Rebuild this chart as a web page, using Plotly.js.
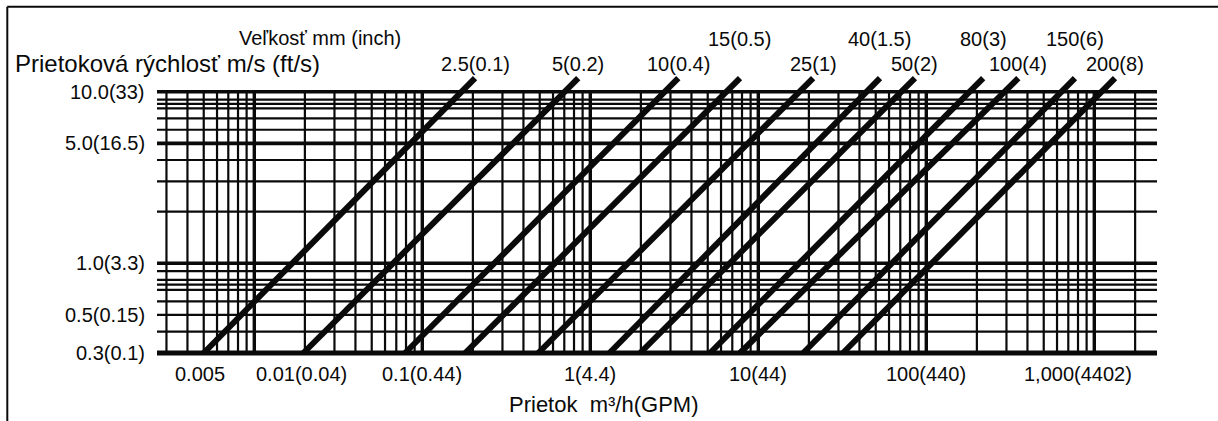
<!DOCTYPE html>
<html>
<head>
<meta charset="utf-8">
<script src="https://cdn.plot.ly/plotly-3.0.1.min.js"></script>
<style>
  html, body { margin: 0; padding: 0; background: #fff; }
  #chart { width: 1218px; height: 421px; }
</style>
</head>
<body>
<div id="chart"></div>
<script>
// ---------- data ----------
// pipe sizes, mm (inch)
const sizeLabels = ['2.5(0.1)', '5(0.2)', '10(0.4)', '15(0.5)', '25(1)', '40(1.5)', '50(2)', '80(3)', '100(4)', '150(6)', '200(8)'];
// flow (m3/h) where each size line meets the lowest velocity line
const flowAtMinVelocity = [0.0050, 0.0196, 0.079, 0.18, 0.49, 1.3, 1.98, 5.16, 7.78, 18.5, 31.9];
// flow (m3/h) at the upper end of each size line
const flowAtMaxVelocity = [0.206, 0.848, 3.34, 7.78, 21.2, 53, 85.6, 218, 353, 767, 1328];
// label row of each size (1 = upper row, 2 = lower row)
const sizeLabelRow = [2, 2, 2, 1, 2, 1, 2, 1, 2, 1, 2];
// velocity (m/s) at the two ends of the size lines
const lineVelocityStart = 0.3;
const lineVelocityEnd = 12;

// grid lines, flow axis (m3/h)
const flowMinorGrid = [0.003, 0.004, 0.005, 0.006, 0.007, 0.008, 0.009,
  0.02, 0.03, 0.04, 0.05, 0.06, 0.07, 0.08, 0.09,
  0.2, 0.3, 0.4, 0.5, 0.6, 0.7, 0.8, 0.9,
  2, 3, 4, 5, 6, 7, 8, 9,
  20, 30, 40, 50, 60, 70, 80, 90,
  200, 300, 400, 500, 600, 700, 800, 900,
  1750];
const flowMajorGrid = [0.01, 0.1, 1, 10, 100, 1000];
// grid lines, velocity axis (m/s)
const velocityMinorGrid = [9, 8.5, 8, 7, 6, 4, 3, 2, 0.9, 0.8, 0.75, 0.7, 0.6, 0.5, 0.4];
const velocityMajorGrid = [10, 5, 1];
const velocityBase = 0.3;
const velocityTop = 10;

// tick labels
const velocityTicks = [10, 5, 1, 0.5, 0.3];
const velocityTickText = ['10.0(33)', '5.0(16.5)', '1.0(3.3)', '0.5(0.15)', '0.3(0.1)'];
const flowTicks = [0.005, 0.01, 0.1, 1, 10, 100, 1000];
const flowTickText = ['0.005', '0.01(0.04)', '0.1(0.44)', '1(4.4)', '10(44)', '100(440)', '1,000(4402)'];

// texts
const sizeTitle = 'Veľkosť mm (inch)';
const velocityTitle = 'Prietoková rýchlosť m/s (ft/s)';
const flowTitle = 'Prietok\u00a0\u00a0m³/h(GPM)';

// ---------- layout ----------
const xRange = [-2.5792, 3.3732];
const yRange = [-0.54036, 1.12646];
const xMin = Math.pow(10, xRange[0]);
const xMax = Math.pow(10, xRange[1]);
const INK = '#0a0a0a';
const FONT = 'Liberation Sans, Arial, Helvetica, sans-serif';

function verticals(vals, width) {
  const x = [], y = [];
  vals.forEach(v => { x.push(v, v, null); y.push(velocityBase, velocityTop, null); });
  return { type: 'scatter', mode: 'lines', x, y, line: { color: INK, width }, hoverinfo: 'skip' };
}
function horizontals(vals, width) {
  const x = [], y = [];
  vals.forEach(v => { x.push(xMin, xMax, null); y.push(v, v, null); });
  return { type: 'scatter', mode: 'lines', x, y, line: { color: INK, width }, hoverinfo: 'skip' };
}

const traces = [
  verticals(flowMinorGrid, 2.2),
  horizontals(velocityMinorGrid, 2.2),
  verticals(flowMajorGrid, 3.4),
  horizontals(velocityMajorGrid, 3.6),
  horizontals([velocityBase], 5)
];

sizeLabels.forEach((name, i) => {
  traces.push({
    type: 'scatter', mode: 'lines', name,
    x: [flowAtMinVelocity[i], flowAtMaxVelocity[i]],
    y: [lineVelocityStart, lineVelocityEnd],
    line: { color: INK, width: 6 },
    hoverinfo: 'skip'
  });
});

const annotations = [];
sizeLabels.forEach((name, i) => {
  annotations.push({
    text: name, xref: 'x', yref: 'y',
    x: Math.log10(flowAtMaxVelocity[i]), y: Math.log10(lineVelocityEnd),
    xanchor: 'center', yanchor: 'middle',
    yshift: sizeLabelRow[i] === 1 ? 39 : 14.5,
    showarrow: false, font: { family: FONT, size: 20, color: INK }
  });
});
velocityTicks.forEach((v, i) => {
  annotations.push({
    text: velocityTickText[i], xref: 'paper', yref: 'y',
    x: 0, y: Math.log10(v), xanchor: 'right', yanchor: 'middle', xshift: -10,
    showarrow: false, font: { family: FONT, size: 20, color: INK }
  });
});
flowTicks.forEach((v, i) => {
  const text = flowTickText[i];
  annotations.push({
    text, xref: 'x', yref: 'paper',
    x: Math.log10(v), y: 0,
    xanchor: text === '0.01(0.04)' ? 'left' : 'center',
    xshift: text === '1,000(4402)' ? -16 : (text === '0.005' ? -4 : 0),
    yanchor: 'middle', yshift: -18,
    showarrow: false, font: { family: FONT, size: 20, color: INK }
  });
});
annotations.push({
  text: sizeTitle, xref: 'paper', yref: 'paper', x: 0.08, y: 1.1119,
  xanchor: 'left', yanchor: 'middle', showarrow: false,
  font: { family: FONT, size: 20, color: INK }
});
annotations.push({
  text: velocityTitle, xref: 'paper', yref: 'paper', x: -0.1437, y: 1.021,
  xanchor: 'left', yanchor: 'middle', showarrow: false,
  font: { family: FONT, size: 24, color: INK }
});
annotations.push({
  text: flowTitle, xref: 'paper', yref: 'paper', x: 0.446, y: -0.1713,
  xanchor: 'center', yanchor: 'middle', showarrow: false,
  font: { family: FONT, size: 22, color: INK }
});

const axisCommon = {
  type: 'log', showgrid: false, zeroline: false, showline: false,
  showticklabels: false, ticks: '', fixedrange: true
};

const layout = {
  width: 1218, height: 421,
  margin: { l: 157, r: 61, t: 70, b: 65, pad: 0 },
  paper_bgcolor: '#ffffff', plot_bgcolor: '#ffffff',
  showlegend: false,
  font: { family: FONT, color: INK },
  xaxis: Object.assign({ range: xRange }, axisCommon),
  yaxis: Object.assign({ range: yRange }, axisCommon),
  annotations,
  shapes: [
    { type: 'line', xref: 'paper', yref: 'paper', x0: -0.1497, x1: 1.07, y0: 1.2213, y1: 1.2213, line: { color: INK, width: 2 } },
    { type: 'line', xref: 'paper', yref: 'paper', x0: -0.1497, x1: -0.1497, y0: -0.24, y1: 1.2213, line: { color: INK, width: 2 } }
  ]
};

Plotly.newPlot('chart', traces, layout, { staticPlot: true, displayModeBar: false });
</script>
</body>
</html>
